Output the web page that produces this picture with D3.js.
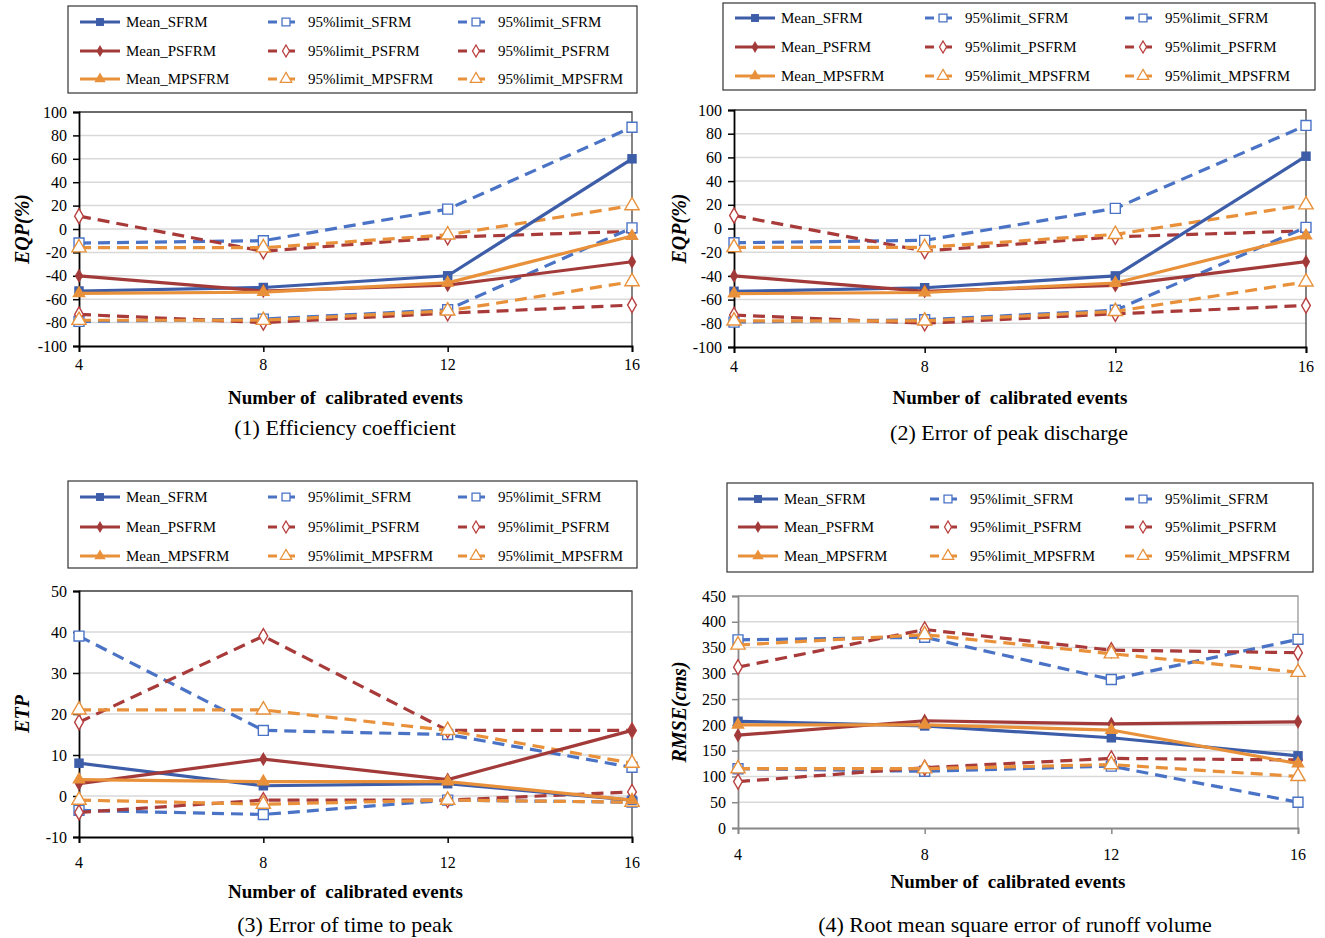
<!DOCTYPE html>
<html>
<head>
<meta charset="utf-8">
<script src="https://cdn.jsdelivr.net/npm/d3@7"></script>
<style>
  body { margin: 0; background: #fff; }
  text { font-family: "Liberation Serif", "DejaVu Serif", serif; fill: #000; }
</style>
</head>
<body>
<svg id="chart" width="1325" height="938"></svg>
<script>
// ---DATA---//
var events = [4, 8, 12, 16];
var models = ["SFRM", "PSFRM", "MPSFRM"];

// (1) efficiency coefficient : mean, upper and lower 95% limit, one row per model
var eqpMean  = [[-53, -50, -40, 60], [-40, -53, -48, -28], [-55, -54, -46, -6]];
var eqpUpper = [[-12, -10, 17, 87], [11, -19, -7, -2], [-16, -16, -5, 20]];
var eqpLower = [[-79, -77, -69, 1], [-73, -80, -72, -65], [-78, -78, -70, -45]];

// (2) error of peak discharge
var epdMean  = [[-53, -50, -40, 61], [-40, -53, -48, -28], [-55, -54, -46, -6]];
var epdUpper = [[-12, -10, 17, 87], [11, -19, -7, -2], [-16, -16, -5, 20]];
var epdLower = [[-79, -77, -69, 1], [-73, -80, -72, -65], [-78, -78, -70, -45]];

// (3) error of time to peak
var etpMean  = [[8, 2.5, 3, -1], [3, 9, 4, 16], [4, 3.5, 3.5, -1]];
var etpUpper = [[39, 16, 15, 7], [18, 39, 16, 16], [21, 21, 16, 8]];
var etpLower = [[-3.5, -4.5, -1, -1.5], [-4, -1, -1, 1], [-1, -2, -1, -1.5]];

// (4) rmse of runoff volume
var rmseMean  = [[207, 198, 175, 140], [180, 208, 202, 206], [200, 200, 190, 125]];
var rmseUpper = [[365, 370, 288, 366], [312, 385, 345, 340], [355, 375, 338, 302]];
var rmseLower = [[115, 110, 120, 50], [90, 117, 135, 132], [115, 115, 123, 100]];

var eqpTicks = d3.range(-100, 101, 20);
var etpTicks = d3.range(-10, 51, 10);
var rmseTicks = d3.range(0, 451, 50);

// ---STYLE---//
var serif = "Liberation Serif, DejaVu Serif, serif";
var meanColors = ["#3d5da8", "#a23a3a", "#e8913a"];
var limitColors = ["#4a73c6", "#a83a3a", "#e8913a"];
var markerStroke = ["#4a73c6", "#b8403f", "#e8913a"];
var symbols = [d3.symbolSquare, d3.symbolDiamond, d3.symbolTriangle];
var symbolSizes = [90, 60, 80];

var svg = d3.select("#chart");

var panels = [
	{ mean: eqpMean, upper: eqpUpper, lower: eqpLower, ticks: eqpTicks,
	  x0: 79, x1: 632, yTop: 112, yBot: 346, ylabel: "EQP(%)", ylabelX: 22,
	  tickLabelY: 370, titleY: 404, caption: "(1) Efficiency coefficient", captionX: 345, captionY: 435,
	  legend: { x: 68, y: 6, w: 569, h: 87, rows: [22, 51, 79], cols: [80, 268, 458] },
	  axisColor: "#000", frameColor: "#444" },
	{ mean: epdMean, upper: epdUpper, lower: epdLower, ticks: eqpTicks,
	  x0: 734, x1: 1306, yTop: 110, yBot: 347, ylabel: "EQP(%)", ylabelX: 679,
	  tickLabelY: 372, titleY: 404, caption: "(2) Error of peak discharge", captionX: 1009, captionY: 440,
	  legend: { x: 723, y: 3, w: 592, h: 87, rows: [18, 47, 76], cols: [735, 925, 1125] },
	  axisColor: "#000", frameColor: "#444" },
	{ mean: etpMean, upper: etpUpper, lower: etpLower, ticks: etpTicks,
	  x0: 79, x1: 632, yTop: 591, yBot: 837, ylabel: "ETP", ylabelX: 22,
	  tickLabelY: 868, titleY: 898, caption: "(3) Error of time to peak", captionX: 345, captionY: 932,
	  legend: { x: 68, y: 481, w: 569, h: 87, rows: [497, 527, 556], cols: [80, 268, 458] },
	  axisColor: "#000", frameColor: "#444" },
	{ mean: rmseMean, upper: rmseUpper, lower: rmseLower, ticks: rmseTicks,
	  x0: 738, x1: 1298, yTop: 596, yBot: 828, ylabel: "RMSE(cms)", ylabelX: 679,
	  tickLabelY: 860, titleY: 888, caption: "(4) Root mean square error of runoff volume", captionX: 1015, captionY: 932,
	  legend: { x: 727, y: 483, w: 586, h: 89, rows: [499, 527, 556], cols: [738, 930, 1125] },
	  axisColor: "#888", frameColor: "#999" }
];

panels.forEach(drawPanel);

function drawPanel(p) {

	var x = d3.scaleLinear().domain([4, 16]).range([p.x0, p.x1]);
	var y = d3.scaleLinear().domain([p.ticks[0], p.ticks[p.ticks.length - 1]]).range([p.yBot, p.yTop]);

	var g = svg.append("g");

	// gridlines
	g.append("g").selectAll("line").data(p.ticks.slice(1)).enter().append("line")
		.attr("x1", p.x0).attr("x2", p.x1)
		.attr("y1", function(d) { return y(d); })
		.attr("y2", function(d) { return y(d); })
		.attr("stroke", "#d9d9d9").attr("stroke-width", 1.5);

	// frame top / right
	g.append("path")
		.attr("d", "M" + p.x0 + "," + p.yTop + "H" + p.x1 + "V" + p.yBot)
		.attr("fill", "none").attr("stroke", p.frameColor).attr("stroke-width", 1.3);

	// y axis
	var yAxis = g.append("g").attr("transform", "translate(" + p.x0 + ",0)")
		.call(d3.axisLeft(y).tickValues(p.ticks).tickSize(6).tickPadding(6)
			.tickFormat(function(d) { return String(d); }))
		.attr("font-family", serif).attr("font-size", 16);
	yAxis.select(".domain").attr("stroke", p.axisColor).attr("stroke-width", 1.8);
	yAxis.selectAll(".tick line").attr("stroke", p.axisColor).attr("stroke-width", 1.5);
	yAxis.selectAll("text").attr("fill", "#000");

	// x axis
	var xAxis = g.append("g").attr("transform", "translate(0," + p.yBot + ")")
		.call(d3.axisBottom(x).tickValues(events).tickSize(6).tickFormat(""));
	xAxis.select(".domain").attr("stroke", p.axisColor).attr("stroke-width", 1.8);
	xAxis.selectAll(".tick line").attr("stroke", p.axisColor).attr("stroke-width", 1.5);

	g.append("g").selectAll("text").data(events).enter().append("text")
		.attr("x", function(d) { return x(d); })
		.attr("y", p.tickLabelY)
		.attr("text-anchor", "middle")
		.attr("font-size", "16px")
		.text(function(d) { return d; });

	// titles
	g.append("text")
		.attr("x", (p.x0 + p.x1) / 2 - 10).attr("y", p.titleY)
		.attr("text-anchor", "middle").attr("font-size", "19px").attr("font-weight", "bold")
		.style("white-space", "pre")
		.text("Number of  calibrated events");

	g.append("text")
		.attr("x", p.captionX).attr("y", p.captionY)
		.attr("text-anchor", "middle").attr("font-size", "22px")
		.text(p.caption);

	g.append("text")
		.attr("transform", "translate(" + p.ylabelX + "," + ((p.yTop + p.yBot) / 2) + ") rotate(-90)")
		.attr("text-anchor", "middle").attr("dy", "0.35em")
		.attr("font-size", "20px").attr("font-weight", "bold").attr("font-style", "italic")
		.text(p.ylabel);

	var line = d3.line()
		.x(function(d, i) { return x(events[i]); })
		.y(function(d) { return y(d); });

	// dashed limit lines first, then mean lines on top
	[p.upper, p.lower].forEach(function(set) {
		set.forEach(function(vals, m) {
			g.append("path").attr("d", line(vals))
				.attr("fill", "none").attr("stroke", limitColors[m])
				.attr("stroke-width", 3.2).attr("stroke-dasharray", "12,7");
			g.selectAll(null).data(vals).enter().append("path")
				.attr("transform", function(d, i) { return "translate(" + x(events[i]) + "," + y(d) + ")"; })
				.attr("d", d3.symbol().type(symbols[m]).size(symbolSizes[m] * 1.1))
				.attr("fill", "#fff").attr("stroke", markerStroke[m]).attr("stroke-width", 1.4);
		});
	});

	p.mean.forEach(function(vals, m) {
		g.append("path").attr("d", line(vals))
			.attr("fill", "none").attr("stroke", meanColors[m]).attr("stroke-width", 3.2);
		g.selectAll(null).data(vals).enter().append("path")
			.attr("transform", function(d, i) { return "translate(" + x(events[i]) + "," + y(d) + ")"; })
			.attr("d", d3.symbol().type(symbols[m]).size(symbolSizes[m]))
			.attr("fill", meanColors[m]);
	});

	drawLegend(p.legend);

}// END: drawPanel

function drawLegend(L) {

	var lg = svg.append("g").attr("class", "legend");

	lg.append("rect")
		.attr("x", L.x).attr("y", L.y).attr("width", L.w).attr("height", L.h)
		.attr("fill", "#fff").attr("stroke", "#333").attr("stroke-width", 1.2);

	models.forEach(function(name, m) {
		var cy = L.rows[m];

		// mean entry
		var cx = L.cols[0];
		lg.append("line").attr("x1", cx).attr("x2", cx + 40).attr("y1", cy).attr("y2", cy)
			.attr("stroke", meanColors[m]).attr("stroke-width", 3);
		lg.append("path").attr("transform", "translate(" + (cx + 20) + "," + cy + ")")
			.attr("d", d3.symbol().type(symbols[m]).size(symbolSizes[m] * 0.7))
			.attr("fill", meanColors[m]);
		lg.append("text").attr("x", cx + 46).attr("y", cy).attr("dy", "0.35em")
			.attr("font-size", "15px").text("Mean_" + name);

		// two limit entries
		[1, 2].forEach(function(c) {
			var lx = L.cols[c];
			lg.append("line").attr("x1", lx).attr("x2", lx + 36).attr("y1", cy).attr("y2", cy)
				.attr("stroke", limitColors[m]).attr("stroke-width", 3).attr("stroke-dasharray", "9,9");
			lg.append("path").attr("transform", "translate(" + (lx + 18) + "," + cy + ")")
				.attr("d", d3.symbol().type(symbols[m]).size(symbolSizes[m] * 0.7))
				.attr("fill", "#fff").attr("stroke", markerStroke[m]).attr("stroke-width", 1.3);
			lg.append("text").attr("x", lx + 40).attr("y", cy).attr("dy", "0.35em")
				.attr("font-size", "15px").text("95%limit_" + name);
		});
	});

}// END: drawLegend
</script>
</body>
</html>
